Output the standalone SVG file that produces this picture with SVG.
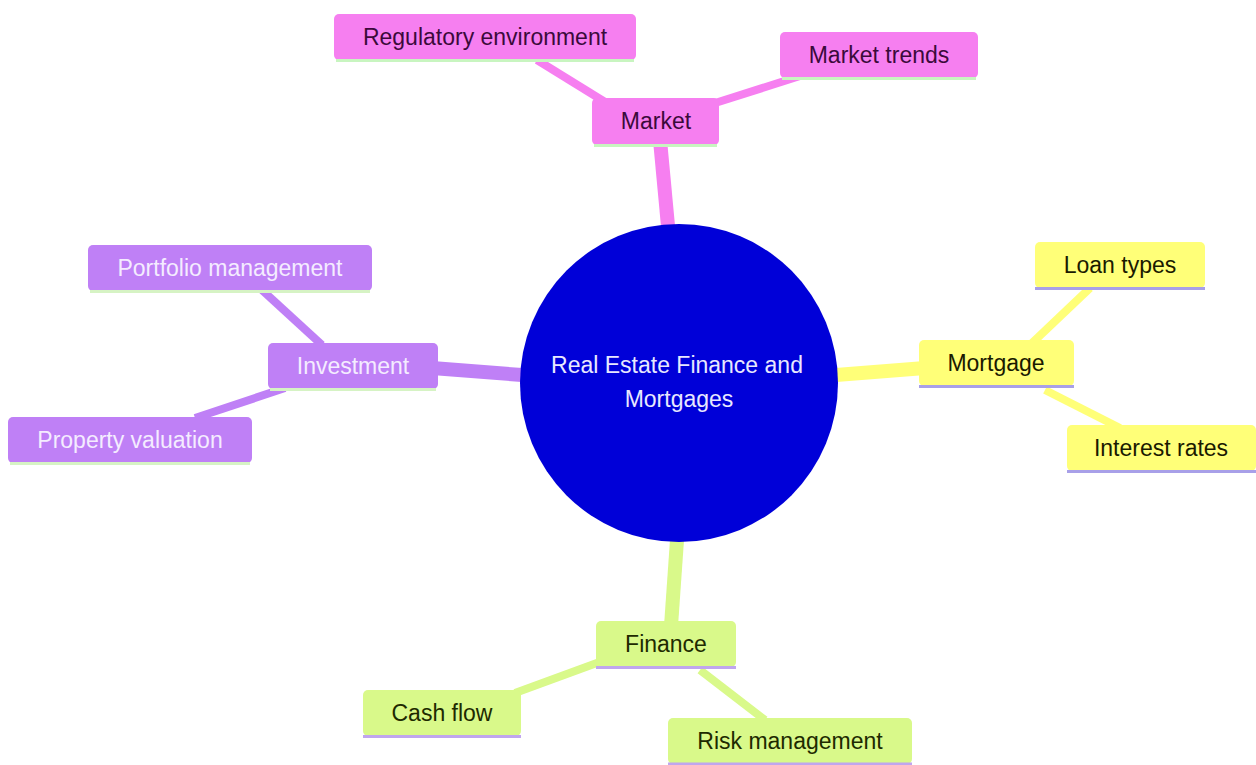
<svg xmlns="http://www.w3.org/2000/svg" width="1256" height="765" viewBox="0 0 1256 765">
<style>
text{font-family:"Liberation Sans",Arial,sans-serif;font-size:23px;text-anchor:middle;dominant-baseline:central}
.s0 rect.b{fill:#f67ff0}.s0 text{fill:#3b0a3b}.s0 .u{stroke:#c8f5c0}
.s1 rect.b{fill:#bf80f6}.s1 text{fill:#f4ecff}.s1 .u{stroke:#d6f3c4}
.s2 rect.b{fill:#ffff78}.s2 text{fill:#1a1a00}.s2 .u{stroke:#a8a0e8}
.s3 rect.b{fill:#d9f98a}.s3 text{fill:#1e2a00}.s3 .u{stroke:#c0a6ee}
.u{stroke-width:3;fill:none}
#edges line{stroke-linecap:butt}
.e0{stroke:#f67ff0}.e1{stroke:#bf80f6}.e2{stroke:#ffff78}.e3{stroke:#d9f98a}
.d1{stroke-width:14}.d2{stroke-width:8}
</style>
<rect width="1256" height="765" fill="#ffffff"/>
<g id="edges">
<line class="e0 d1" x1="668" y1="226" x2="660" y2="140"/>
<line class="e0 d2" x1="605" y1="102" x2="537" y2="60"/>
<line class="e0 d2" x1="712" y1="104" x2="800" y2="76"/>
<line class="e1 d1" x1="522" y1="375" x2="432" y2="368"/>
<line class="e1 d2" x1="322" y1="345" x2="262" y2="290"/>
<line class="e1 d2" x1="285" y1="388" x2="195" y2="418"/>
<line class="e2 d1" x1="836" y1="375" x2="925" y2="368"/>
<line class="e2 d2" x1="1030" y1="345" x2="1090" y2="288"/>
<line class="e2 d2" x1="1045" y1="390" x2="1120" y2="428"/>
<line class="e3 d1" x1="677" y1="540" x2="671" y2="626"/>
<line class="e3 d2" x1="605" y1="660" x2="515" y2="693"/>
<line class="e3 d2" x1="700" y1="670" x2="765" y2="720"/>
</g>
<g id="root">
<circle cx="679" cy="383" r="159" fill="#0000d8"/>
<text x="677" y="365" fill="#e8e8ff">Real Estate Finance and</text>
<text x="679" y="399" fill="#e8e8ff">Mortgages</text>
</g>
<g id="market" class="s0">
<rect class="b" x="592" y="98" width="127" height="47" rx="5"/>
<line class="u" x1="594" y1="145.5" x2="717" y2="145.5"/>
<text x="656" y="121">Market</text>
</g>
<g id="regulatory" class="s0">
<rect class="b" x="334" y="14" width="302" height="46" rx="5"/>
<line class="u" x1="336" y1="60.5" x2="634" y2="60.5"/>
<text x="485" y="37">Regulatory environment</text>
</g>
<g id="trends" class="s0">
<rect class="b" x="780" y="32" width="198" height="46" rx="5"/>
<line class="u" x1="782" y1="78.5" x2="976" y2="78.5"/>
<text x="879" y="55">Market trends</text>
</g>
<g id="investment" class="s1">
<rect class="b" x="268" y="343" width="170" height="46" rx="5"/>
<line class="u" x1="270" y1="389.5" x2="436" y2="389.5"/>
<text x="353" y="366">Investment</text>
</g>
<g id="portfolio" class="s1">
<rect class="b" x="88" y="245" width="284" height="46" rx="5"/>
<line class="u" x1="90" y1="291.5" x2="370" y2="291.5"/>
<text x="230" y="268">Portfolio management</text>
</g>
<g id="valuation" class="s1">
<rect class="b" x="8" y="417" width="244" height="46" rx="5"/>
<line class="u" x1="10" y1="463.5" x2="250" y2="463.5"/>
<text x="130" y="440">Property valuation</text>
</g>
<g id="mortgage" class="s2">
<rect class="b" x="919" y="340" width="155" height="46" rx="5"/>
<line class="u" x1="919" y1="386.5" x2="1074" y2="386.5"/>
<text x="996" y="363">Mortgage</text>
</g>
<g id="loantypes" class="s2">
<rect class="b" x="1035" y="242" width="170" height="46" rx="5"/>
<line class="u" x1="1035" y1="288.5" x2="1205" y2="288.5"/>
<text x="1120" y="265">Loan types</text>
</g>
<g id="interest" class="s2">
<rect class="b" x="1067" y="425" width="189" height="46" rx="5"/>
<line class="u" x1="1067" y1="471.5" x2="1256" y2="471.5"/>
<text x="1161" y="448">Interest rates</text>
</g>
<g id="finance" class="s3">
<rect class="b" x="596" y="621" width="140" height="46" rx="5"/>
<line class="u" x1="596" y1="667.5" x2="736" y2="667.5"/>
<text x="666" y="644">Finance</text>
</g>
<g id="cashflow" class="s3">
<rect class="b" x="363" y="690" width="158" height="46" rx="5"/>
<line class="u" x1="363" y1="736.5" x2="521" y2="736.5"/>
<text x="442" y="713">Cash flow</text>
</g>
<g id="risk" class="s3">
<rect class="b" x="668" y="718" width="244" height="46" rx="5"/>
<line class="u" x1="668" y1="764" x2="912" y2="764"/>
<text x="790" y="741">Risk management</text>
</g>
</svg>
